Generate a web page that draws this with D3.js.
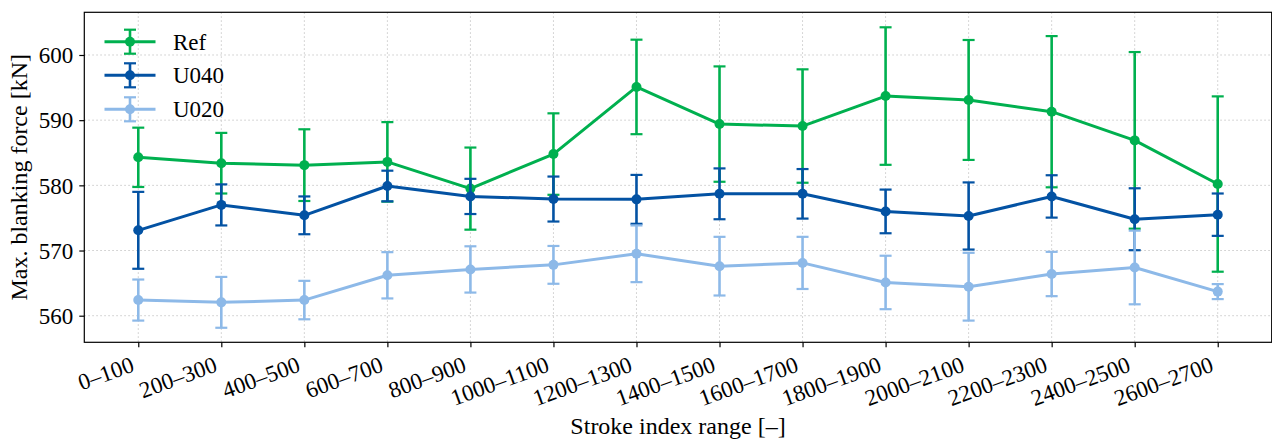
<!DOCTYPE html>
<html>
<head>
<meta charset="utf-8">
<script src="https://cdn.jsdelivr.net/npm/d3@7/dist/d3.min.js"></script>
<style>
  html, body { margin: 0; padding: 0; background: #fff; }
  svg { display: block; }
  text { font-family: "Liberation Serif", "Times New Roman", serif; fill: #000; }
</style>
</head>
<body>
<svg id="chart" width="1272" height="442"></svg>
<script>
const categories = ["0–100","200–300","400–500","600–700","800–900","1000–1100","1200–1300","1400–1500","1600–1700","1800–1900","2000–2100","2200–2300","2400–2500","2600–2700"];

const refMean  = [584.3,583.4,583.1,583.6,579.5,584.8,595.1,589.4,589.1,593.7,593.1,591.3,586.9,580.2];
const refErr   = [4.55,4.65,5.5,6.1,6.3,6.25,7.25,8.85,8.7,10.55,9.2,11.6,13.55,13.45];

const u040Mean = [573.1,577.0,575.4,579.9,578.3,577.9,577.85,578.7,578.7,576.0,575.3,578.3,574.8,575.5];
const u040Err  = [5.9,3.15,2.9,2.35,2.7,3.45,3.75,3.9,3.8,3.35,5.15,3.25,4.75,3.25];

const u020Mean = [562.4,562.05,562.4,566.2,567.1,567.8,569.5,567.6,568.1,565.1,564.45,566.4,567.4,563.7];
const u020Err  = [3.15,3.9,2.95,3.55,3.55,2.9,4.35,4.5,4.0,4.1,5.2,3.4,5.65,1.15];

const yTicks = [560,570,580,590,600];

const seriesNames = ["Ref","U040","U020"];
const seriesColors = ["#00b04f","#0352a3","#8db9e8"];

const series = [
  {name: seriesNames[0], color: seriesColors[0], mean: refMean, err: refErr},
  {name: seriesNames[1], color: seriesColors[1], mean: u040Mean, err: u040Err},
  {name: seriesNames[2], color: seriesColors[2], mean: u020Mean, err: u020Err}
];

const W = 1272, H = 442;
const m = {left: 84.3, right: 0.3, top: 12.3, bottom: 99.7};
const pw = W - m.left - m.right, ph = H - m.top - m.bottom;

const svg = d3.select("#chart");
const g = svg.append("g").attr("transform", `translate(${m.left},${m.top})`);

const n = categories.length;
const x = d3.scaleLinear().domain([-0.65, n - 1 + 0.65]).range([0, pw]);
const y = d3.scaleLinear().domain([555.92, 606.55]).range([ph, 0]);

// grid
g.append("g").selectAll("line.gx").data(categories).join("line")
  .attr("x1", (d,i)=>x(i)).attr("x2", (d,i)=>x(i))
  .attr("y1", 0).attr("y2", ph)
  .attr("stroke", "#c9c9c9").attr("stroke-width", 1).attr("stroke-dasharray", "1.5,2.5");
g.append("g").selectAll("line.gy").data(yTicks).join("line")
  .attr("x1", 0).attr("x2", pw)
  .attr("y1", d=>y(d)).attr("y2", d=>y(d))
  .attr("stroke", "#c9c9c9").attr("stroke-width", 1).attr("stroke-dasharray", "1.5,2.5");

// axes
const xAxis = d3.axisBottom(x).tickValues(d3.range(n)).tickFormat(i=>categories[i]).tickSize(5).tickPadding(4);
const xg = g.append("g").attr("transform", `translate(0,${ph})`).call(xAxis);
xg.select(".domain").remove();
xg.selectAll(".tick line").attr("stroke", "#000").attr("stroke-width", 1.2);
xg.selectAll(".tick text")
  .attr("font-size", 23)
  .attr("text-anchor", "end")
  .attr("y", 0).attr("dy", "0.72em")
  .attr("transform", "translate(-9,13) rotate(-20)");

const yAxis = d3.axisLeft(y).tickValues(yTicks).tickSize(5).tickPadding(6);
const yg = g.append("g").call(yAxis);
yg.select(".domain").remove();
yg.selectAll(".tick line").attr("stroke", "#000").attr("stroke-width", 1.2);
yg.selectAll(".tick text").attr("font-size", 23).attr("dy", "0.34em");

// frame
g.append("rect").attr("x", 0).attr("y", 0).attr("width", pw).attr("height", ph)
  .attr("fill", "none").attr("stroke", "#000").attr("stroke-width", 1.2);

// series
const capHalf = 6;
const line = d3.line().x((d,i)=>x(i)).y(d=>y(d));
series.forEach(s => {
  const sg = g.append("g");
  sg.append("path").datum(s.mean).attr("d", line)
    .attr("fill", "none").attr("stroke", s.color).attr("stroke-width", 3).attr("stroke-linejoin", "round");
  const eb = sg.append("g").selectAll("g").data(s.mean).join("g");
  eb.append("line")
    .attr("x1", (d,i)=>x(i)).attr("x2", (d,i)=>x(i))
    .attr("y1", (d,i)=>y(d - s.err[i])).attr("y2", (d,i)=>y(d + s.err[i]))
    .attr("stroke", s.color).attr("stroke-width", 2.6);
  eb.append("line")
    .attr("x1", (d,i)=>x(i)-capHalf).attr("x2", (d,i)=>x(i)+capHalf)
    .attr("y1", (d,i)=>y(d + s.err[i])).attr("y2", (d,i)=>y(d + s.err[i]))
    .attr("stroke", s.color).attr("stroke-width", 2.2);
  eb.append("line")
    .attr("x1", (d,i)=>x(i)-capHalf).attr("x2", (d,i)=>x(i)+capHalf)
    .attr("y1", (d,i)=>y(d - s.err[i])).attr("y2", (d,i)=>y(d - s.err[i]))
    .attr("stroke", s.color).attr("stroke-width", 2.2);
  sg.append("g").selectAll("circle").data(s.mean).join("circle")
    .attr("cx", (d,i)=>x(i)).attr("cy", d=>y(d)).attr("r", 5)
    .attr("fill", s.color);
});

// legend
const lg = svg.append("g");
const rowY = [41.7, 75.3, 109.3];
series.forEach((s, k) => {
  const r = lg.append("g").attr("transform", `translate(0,${rowY[k]})`);
  r.append("line").attr("x1", 104.5).attr("x2", 155.5).attr("y1", 0).attr("y2", 0)
    .attr("stroke", s.color).attr("stroke-width", 3);
  r.append("line").attr("x1", 130).attr("x2", 130).attr("y1", -12).attr("y2", 12)
    .attr("stroke", s.color).attr("stroke-width", 2.6);
  r.append("line").attr("x1", 130-capHalf).attr("x2", 130+capHalf).attr("y1", -12).attr("y2", -12)
    .attr("stroke", s.color).attr("stroke-width", 2.2);
  r.append("line").attr("x1", 130-capHalf).attr("x2", 130+capHalf).attr("y1", 12).attr("y2", 12)
    .attr("stroke", s.color).attr("stroke-width", 2.2);
  r.append("circle").attr("cx", 130).attr("cy", 0).attr("r", 5).attr("fill", s.color);
  r.append("text").attr("x", 173).attr("y", 0).attr("dy", "0.34em")
    .attr("font-size", 23).text(s.name);
});

// axis labels
svg.append("text").attr("x", m.left + pw/2).attr("y", 434)
  .attr("text-anchor", "middle").attr("font-size", 24).text("Stroke index range [–]");
svg.append("text").attr("transform", `translate(26.5,${m.top + ph/2}) rotate(-90)`)
  .attr("text-anchor", "middle").attr("font-size", 24).text("Max. blanking force [kN]");
</script>
</body>
</html>
